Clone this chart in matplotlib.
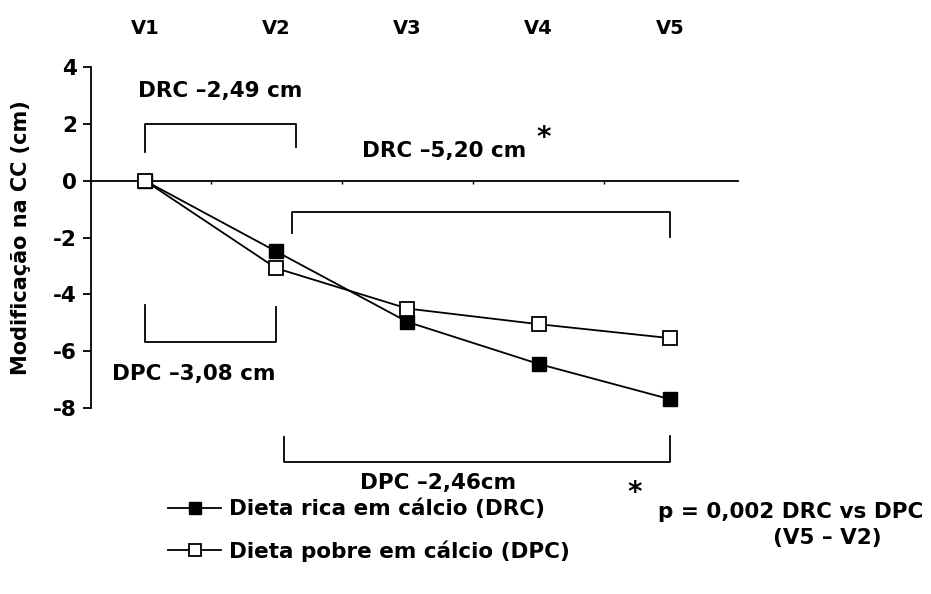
"""
Modificacao na circunferencia da cintura (CC) ao longo das visitas
"""
import matplotlib
matplotlib.use('Agg')
import matplotlib.pyplot as plt
import numpy as np

plt.rcParams['font.family'] = ['DejaVu Sans']
plt.rcParams['font.weight'] = 'bold'

visitas = ['V1', 'V2', 'V3', 'V4', 'V5']
drc = [0, -2.49, -4.97, -6.45, -7.69]   # dieta rica em calcio
dpc = [0, -3.08, -4.50, -5.05, -5.54]   # dieta pobre em calcio
yticks = [4, 2, 0, -2, -4, -6, -8]

x = np.arange(1, len(visitas) + 1)

fig = plt.figure(figsize=(9.31, 5.94), dpi=100)
ax = fig.add_axes([0.0977, 0.3131, 0.695, 0.5741])

ax.plot(x, drc, '-s', color='black', lw=1.3, ms=9.5, mfc='black', mec='black',
        label='Dieta rica em cálcio (DRC)', zorder=3, clip_on=False)
ax.plot(x, dpc, '-s', color='black', lw=1.3, ms=9.5, mfc='white', mec='black',
        mew=1.3, label='Dieta pobre em cálcio (DPC)', zorder=4, clip_on=False)

ax.set_xlim(0.589, 5.518)
ax.set_ylim(-8, 4)
ax.set_yticks(yticks)
ax.set_yticklabels([str(t) for t in yticks], fontsize=15.5, fontweight='bold')
ax.tick_params(axis='y', direction='out', length=6, width=1.3, pad=4)
ax.set_ylabel('Modificação na CC (cm)', fontsize=15, fontweight='bold', labelpad=16)

# eixo x no zero, sem rotulos embaixo
for s in ['top', 'right']:
    ax.spines[s].set_visible(False)
ax.spines['bottom'].set_position(('data', 0))
ax.spines['bottom'].set_linewidth(1.3)
ax.spines['left'].set_linewidth(1.3)
ax.set_xticks(x[:-1] + 0.5)
ax.set_xticklabels([])
ax.tick_params(axis='x', direction='out', length=2, width=1)

# visitas no topo
for xi, v in zip(x, visitas):
    ax.text(xi, 5.37, v, ha='center', va='center', fontsize=14,
            fontweight='bold', clip_on=False)

def colchete(x0, x1, y, h0, h1):
    ax.plot([x0, x0, x1, x1], [y + h0, y, y, y + h1], color='black',
            lw=1.3, clip_on=False)

# DRC V1-V2
colchete(x[0], x[1] + 0.15, 2.0, -1.0, -0.8)
ax.text(1.57, 3.17, 'DRC \u20132,49 cm', ha='center', va='center', fontsize=15.5)
# DRC V2-V5
colchete(x[1] + 0.12, x[4], -1.09, -0.75, -0.9)
ax.text(3.28, 1.05, 'DRC \u20135,20 cm', ha='center', va='center', fontsize=15.5)
ax.text(4.04, 1.5, '*', ha='center', va='center', fontsize=20)
# DPC V1-V2
colchete(x[0], x[1], -5.67, 1.3, 1.23)
ax.text(1.37, -6.8, 'DPC \u20133,08 cm', ha='center', va='center', fontsize=15.5)
# DPC V2-V5
colchete(x[1] + 0.06, x[4], -9.9, 0.87, 0.9)
ax.text(3.23, -10.64, 'DPC \u20132,46cm', ha='center', va='center', fontsize=15.5)

# nota de significancia
fig.text(635 / 931, 1 - 493 / 594, '*', ha='center', va='center', fontsize=20)
fig.text(791 / 931, 1 - 512 / 594, 'p = 0,002 DRC vs DPC', ha='center',
         va='center', fontsize=15.5)
fig.text(827 / 931, 1 - 538 / 594, '(V5 \u2013 V2)', ha='center',
         va='center', fontsize=15.5)

fig.legend(loc='upper left', bbox_to_anchor=(159 / 931, 1 - 490 / 594),
           frameon=False, handlelength=2.5, handletextpad=0.35,
           labelspacing=0.98, prop={'size': 15.5, 'weight': 'bold'},
           borderaxespad=0, markerscale=0.85)

fig.savefig('out.png', dpi=100)
